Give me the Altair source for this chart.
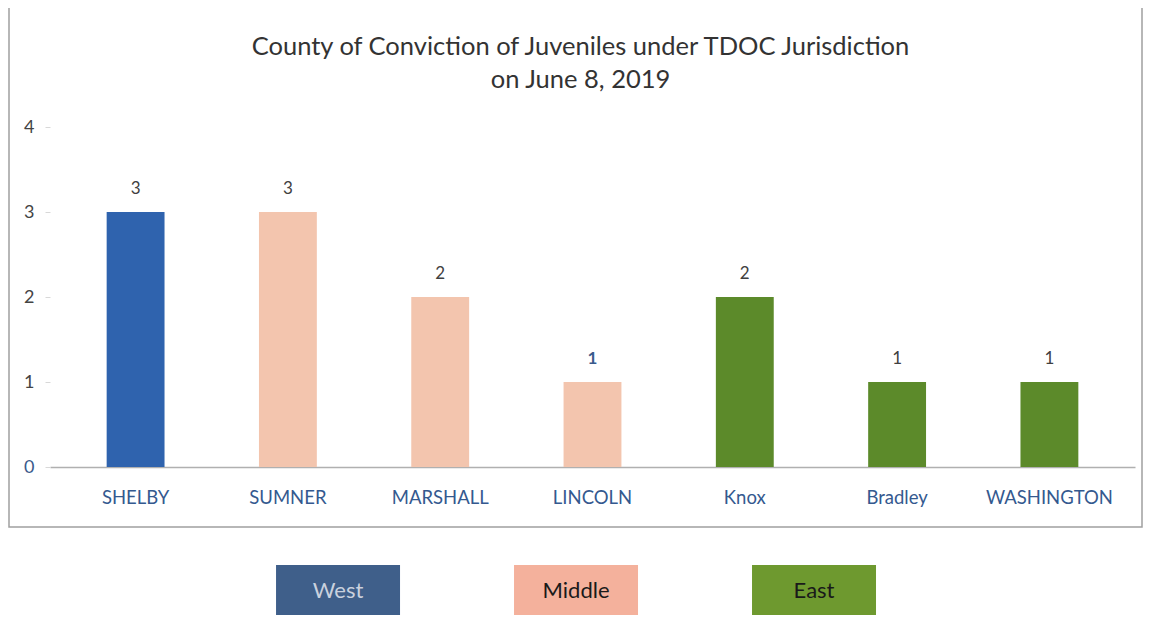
import altair as alt
import pandas as pd

counties = ["SHELBY", "SUMNER", "MARSHALL", "LINCOLN", "Knox", "Bradley", "WASHINGTON"]
counts = [3, 3, 2, 1, 2, 1, 1]
regions = ["West", "Middle", "Middle", "Middle", "East", "East", "East"]
label_colors = ["#404040", "#404040", "#404040", "#3a5a8c", "#404040", "#404040", "#404040"]
label_bold = [False, False, False, True, False, False, False]

legend_regions = ["West", "Middle", "East"]
legend_slots = ["West", "Middle", "East", "_pad"]
bar_colors = ["#2f63ae", "#f3c5ae", "#5c8a2a"]
legend_colors = ["#3f5f8a", "#f4b19c", "#6e992f"]
legend_text_colors = ["#c9d1de", "#1a1a1a", "#1a1a1a"]

df = pd.DataFrame({
    "county": counties,
    "count": counts,
    "region": regions,
    "lcolor": label_colors,
    "bold": label_bold,
})
leg = pd.DataFrame({
    "legend": legend_regions,
    "fillc": legend_colors,
    "tcolor": legend_text_colors,
})

font = "Lato"

x_enc = alt.X(
    "county:N",
    sort=counties,
    scale=alt.Scale(paddingInner=0.62, paddingOuter=0.372),
    axis=alt.Axis(
        title=None, labelAngle=0, labelColor="#34598f", labelFontSize=18.5,
        labelFont=font, labelPadding=21, ticks=False, domainColor="#b0b0b0",
        domainWidth=1.5, grid=False,
    ),
)
y_enc = alt.Y(
    "count:Q",
    scale=alt.Scale(domain=[0, 4]),
    axis=alt.Axis(
        title=None, values=[0, 1, 2, 3, 4], format="d", labelFontSize=18, labelFont=font,
        labelColor={"expr": "datum.value == 0 ? '#3a5a8c' : '#444444'"},
        domain=False, grid=False, tickColor="#d8d8d8", tickSize=5,
        labelPadding=11,
    ),
)

base = alt.Chart(df)
bars = base.mark_bar().encode(
    x=x_enc,
    y=y_enc,
    color=alt.Color("region:N", scale=alt.Scale(domain=legend_regions, range=bar_colors), legend=None),
)
texts = base.transform_filter("!datum.bold").mark_text(
    baseline="bottom", dy=-14, fontSize=17, font=font
).encode(
    x=alt.X("county:N", sort=counties),
    y="count:Q",
    text="count:Q",
    color=alt.Color("lcolor:N", scale=None),
)
texts_bold = base.transform_filter("datum.bold").mark_text(
    baseline="bottom", dy=-14, fontSize=17, font=font, fontWeight="bold"
).encode(
    x=alt.X("county:N", sort=counties),
    y="count:Q",
    text="count:Q",
    color=alt.Color("lcolor:N", scale=None),
)

frame = alt.Chart(pd.DataFrame({"k": [0]})).mark_rect(
    fill=None, stroke="#a0a0a0", strokeWidth=1.5, clip=False
).encode(
    x=alt.value(-41), x2=alt.value(1092), y=alt.value(-120), y2=alt.value(400)
)

leg_x = alt.X(
    "legend:N",
    scale=alt.Scale(domain=legend_slots, paddingInner=0.479, paddingOuter=0.519, align=0.915),
    axis=None,
)
leg_rects = alt.Chart(leg).mark_bar(clip=False).encode(
    x=leg_x,
    y=alt.value(438), y2=alt.value(490),
    color=alt.Color("fillc:N", scale=None),
)
leg_text = alt.Chart(leg).mark_text(fontSize=22, font=font, baseline="middle", clip=False).encode(
    x=leg_x,
    y=alt.value(464),
    text="legend:N",
    color=alt.Color("tcolor:N", scale=None),
)

main = alt.layer(bars, texts, texts_bold)
legend_layer = alt.layer(leg_rects, leg_text)

chart = alt.layer(frame, main, legend_layer).resolve_scale(
    x="independent", color="independent"
).properties(
    width=1085,
    height=340,
    padding={"left": 42, "top": 119, "right": 8, "bottom": 148},
    autosize=alt.AutoSizeParams(type="none"),
    background="white",
    title=alt.TitleParams(
        text=["County of Conviction of Juveniles under TDOC Jurisdiction", "on June 8, 2019"],
        font=font, fontSize=25.5, fontWeight="normal", color="#333333",
        anchor="middle", offset=-87, lineHeight=33, dx=-12,
    ),
).configure_view(strokeWidth=0, stroke="transparent")

chart.save("out.html", embed_options={"renderer": "svg", "actions": False})
